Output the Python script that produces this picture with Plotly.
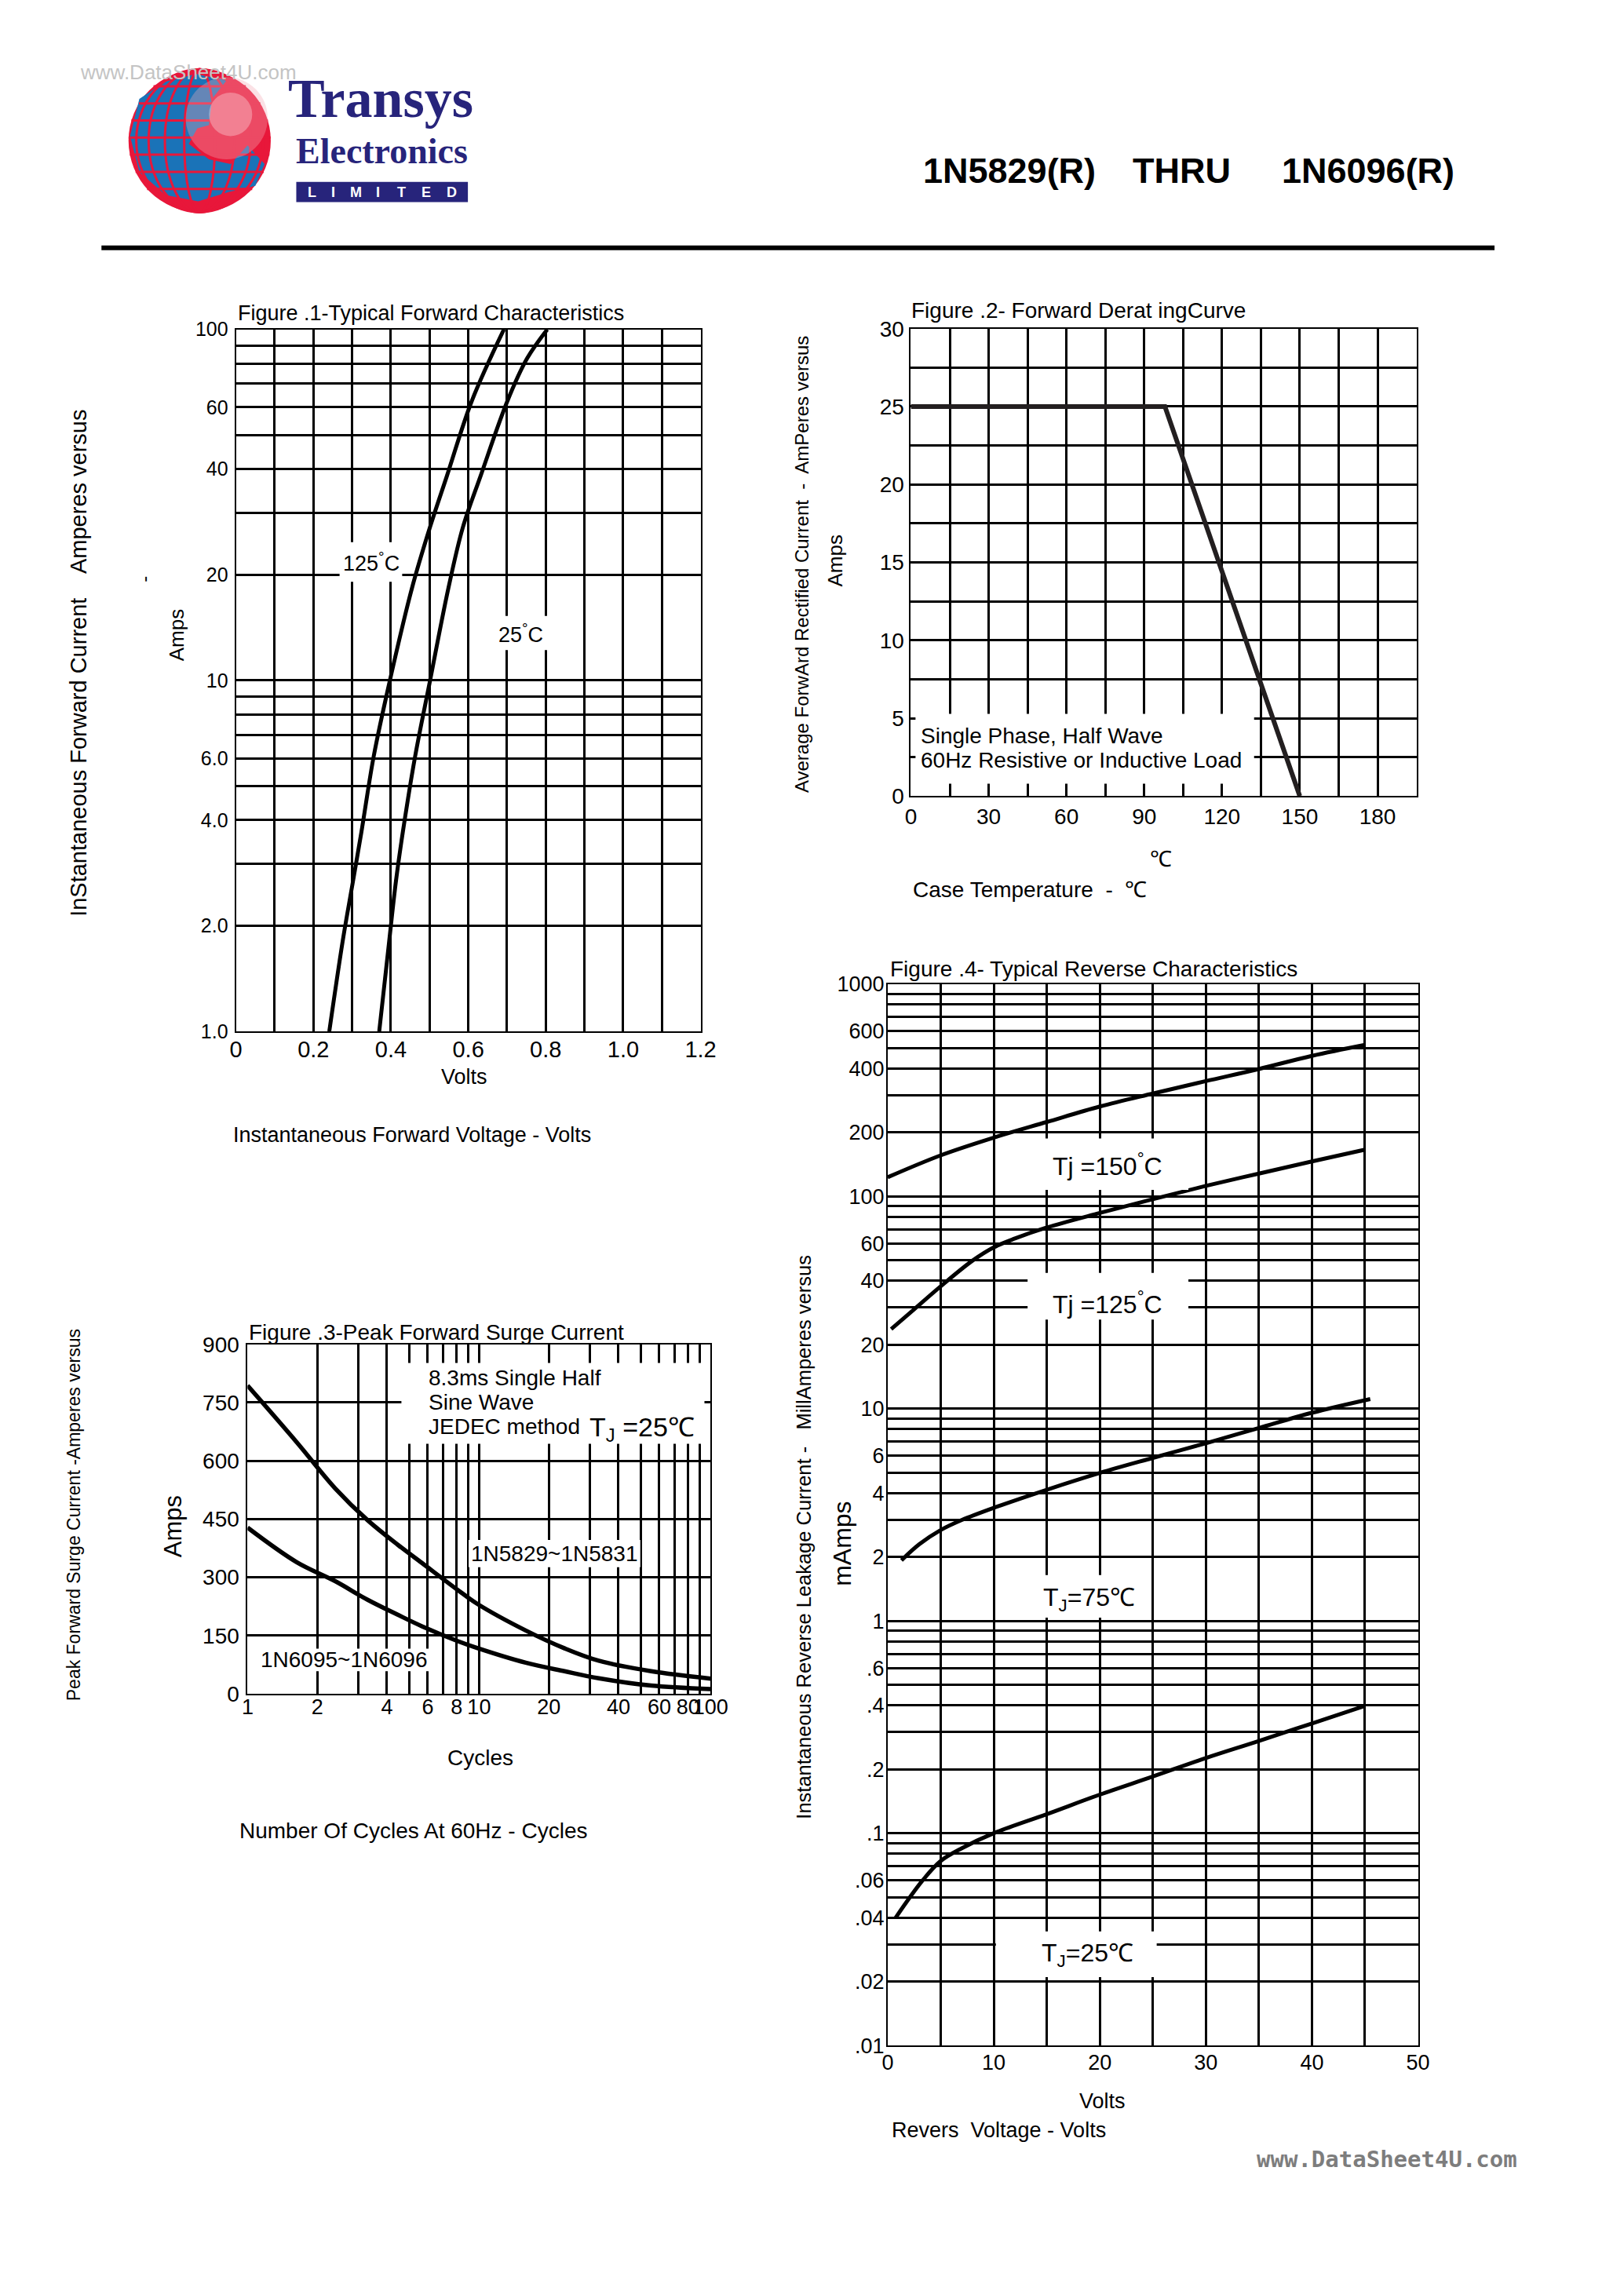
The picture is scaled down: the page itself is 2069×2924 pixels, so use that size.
import plotly.graph_objects as go

# ---------------- data ----------------
# Figure 1 - typical forward characteristics (V, A)
fig1_v125 = [0.241, 0.276, 0.302, 0.324, 0.356, 0.396, 0.455, 0.501, 0.545, 0.609, 0.692]
fig1_i125 = [1.0, 1.82, 2.67, 3.70, 6.10, 9.83, 18.4, 27.3, 38.3, 62.5, 100]
fig1_v25 = [0.370, 0.396, 0.413, 0.431, 0.463, 0.500, 0.549, 0.586, 0.632, 0.701, 0.752, 0.804]
fig1_i25 = [1.0, 1.82, 2.67, 3.70, 6.10, 9.83, 18.4, 27.3, 38.3, 62.5, 82.7, 100]
fig1_xgrid = [0, 0.1, 0.2, 0.3, 0.4, 0.5, 0.6, 0.7, 0.8, 0.9, 1.0, 1.1, 1.2]
fig1_xlabels = ["0", "", "0.2", "", "0.4", "", "0.6", "", "0.8", "", "1.0", "", "1.2"]
fig1_ygrid = [1, 2, 3, 4, 5, 6, 7, 8, 9, 10, 20, 30, 40, 50, 60, 70, 80, 90, 100]
fig1_ylabels = ["1.0", "2.0", "", "4.0", "", "6.0", "", "", "", "10", "20", "", "40", "", "60", "", "", "", "100"]

# Figure 2 - forward derating curve (degC, A)
fig2_temp = [0, 98, 150]
fig2_amps = [25, 25, 0]
fig2_xgrid = [0, 15, 30, 45, 60, 75, 90, 105, 120, 135, 150, 165, 180, 195]
fig2_xlabels = ["0", "", "30", "", "60", "", "90", "", "120", "", "150", "", "180", ""]
fig2_ygrid = [0, 2.5, 5, 7.5, 10, 12.5, 15, 17.5, 20, 22.5, 25, 27.5, 30]
fig2_ylabels = ["0", "", "5", "", "10", "", "15", "", "20", "", "25", "", "30"]

# Figure 3 - peak forward surge current (cycles, A)
fig3_cycles = [1.0, 1.63, 2.39, 3.30, 4.47, 5.66, 8.06, 9.80, 15.9, 23.4, 32.9, 55.4, 100]
fig3_5829 = [794, 648, 529, 447, 383, 337, 268, 232, 163, 117, 85, 58, 39]
fig3_6095 = [428, 339, 290, 242, 203, 174, 136, 118, 80, 58, 40, 21, 12]
fig3_xgrid = [1, 2, 3, 4, 5, 6, 7, 8, 9, 10, 20, 30, 40, 50, 60, 70, 80, 90, 100]
fig3_xlabels = ["1", "2", "", "4", "", "6", "", "8", "", "10", "20", "", "40", "", "60", "", "80", "", "100"]
fig3_ygrid = [0, 150, 300, 450, 600, 750, 900]
fig3_ylabels = ["0", "150", "300", "450", "600", "750", "900"]

# Figure 4 - typical reverse characteristics (V, mA)
fig4_v150 = [0, 5, 10, 15, 20, 25, 30, 35, 40, 45]
fig4_i150 = [123, 156, 189, 224, 265, 305, 349, 398, 459, 517]
fig4_v125 = [0.33, 2.5, 5, 8, 10, 12, 15, 20, 25, 30, 35, 40, 45]
fig4_i125 = [23.7, 29.4, 37.7, 49.8, 57.5, 63.3, 71.3, 83.5, 97, 112, 128, 146, 166]
fig4_v75 = [1.3, 3, 5, 7, 10, 15, 20, 25, 30, 35, 40, 45.5]
fig4_i75 = [1.93, 2.30, 2.68, 2.99, 3.41, 4.15, 4.98, 5.86, 6.87, 8.11, 9.56, 11.1]
fig4_v25 = [0.75, 3.3, 5, 7, 10, 15, 20, 25, 30, 35, 40, 45]
fig4_i25 = [0.040, 0.060, 0.074, 0.085, 0.100, 0.123, 0.152, 0.185, 0.226, 0.272, 0.329, 0.398]
fig4_xgrid = [0, 5, 10, 15, 20, 25, 30, 35, 40, 45, 50]
fig4_xlabels = ["0", "", "10", "", "20", "", "30", "", "40", "", "50"]
fig4_ygrid = [0.01, 0.02, 0.03, 0.04, 0.05, 0.06, 0.07, 0.08, 0.09,
              0.1, 0.2, 0.3, 0.4, 0.5, 0.6, 0.7, 0.8, 0.9,
              1, 2, 3, 4, 5, 6, 7, 8, 9,
              10, 20, 30, 40, 50, 60, 70, 80, 90,
              100, 200, 300, 400, 500, 600, 700, 800, 900, 1000]
fig4_ylabels = [".01", ".02", "", ".04", "", ".06", "", "", "",
                ".1", ".2", "", ".4", "", ".6", "", "", "",
                "1", "2", "", "4", "", "6", "", "", "",
                "10", "20", "", "40", "", "60", "", "", "",
                "100", "200", "", "400", "", "600", "", "", "", "1000"]

# ---------------- helpers ----------------
PAGE_W, PAGE_H = 2069, 2924
OFF = 8                       # default body margin of the html page
W, H = PAGE_W - 2 * OFF, PAGE_H - 2 * OFF
SANS = "Liberation Sans, Arial, Helvetica, sans-serif"
SERIF = "Liberation Serif, Times New Roman, serif"
NAVY = "#27247b"


def px(x):
    return (x - OFF) / W


def py(y):
    return 1 - (y - OFF) / H


annotations = []
shapes = []


def text(t, x, y, size, family=SANS, xanchor="center", yanchor="middle", angle=0,
         color="black", bold=False):
    annotations.append(dict(
        text=("<b>%s</b>" % t) if bold else t, x=px(x), y=py(y), xref="paper", yref="paper",
        xanchor=xanchor, yanchor=yanchor, showarrow=False, textangle=angle,
        font=dict(family=family, size=size, color=color), align="left"))


def white_box(x0, y0, x1, y1):
    shapes.append(dict(type="rect", xref="paper", yref="paper", x0=px(x0), x1=px(x1),
                       y0=py(y1), y1=py(y0), fillcolor="white", line=dict(width=0),
                       layer="above"))


def axis(domain, grid, labels, size, standoff, rng, kind="linear", horizontal=True):
    if horizontal:
        dom = [px(domain[0]), px(domain[1])]
    else:
        dom = [py(domain[1]), py(domain[0])]
    return dict(domain=dom, type=kind, range=rng, tickmode="array", tickvals=grid,
                ticktext=labels, showgrid=True, gridcolor="black", gridwidth=2.5,
                showline=True, mirror=True, linecolor="black", linewidth=2,
                zeroline=False, ticks="", ticklabelstandoff=standoff, tickangle=0,
                tickfont=dict(family=SANS, size=size, color="black"), fixedrange=True)


fig = go.Figure()
curve = dict(color="black", width=5, shape="spline", smoothing=1.0)

# ---------------- figure 1 ----------------
F1X, F1Y = (297, 898), (409, 1313)
fig.add_trace(go.Scatter(x=fig1_v125, y=fig1_i125, mode="lines", xaxis="x", yaxis="y", line=curve))
fig.add_trace(go.Scatter(x=fig1_v25, y=fig1_i25, mode="lines", xaxis="x", yaxis="y", line=curve))

# ---------------- figure 2 ----------------
F2X, F2Y = (1170, 1824), (408, 1010)
fig.add_trace(go.Scatter(x=fig2_temp, y=fig2_amps, mode="lines", xaxis="x2", yaxis="y2",
                         line=dict(color="#231f20", width=6)))

# ---------------- figure 3 ----------------
F3X, F3Y = (312, 911), (1716, 2166)
fig.add_trace(go.Scatter(x=fig3_cycles, y=fig3_5829, mode="lines", xaxis="x3", yaxis="y3",
                         line=dict(curve, width=5.5)))
fig.add_trace(go.Scatter(x=fig3_cycles, y=fig3_6095, mode="lines", xaxis="x3", yaxis="y3",
                         line=dict(curve, width=5.5)))

# ---------------- figure 4 ----------------
F4X, F4Y = (1140, 1826), (1252, 2619)
for xs, ys in [(fig4_v150, fig4_i150), (fig4_v125, fig4_i125),
               (fig4_v75, fig4_i75), (fig4_v25, fig4_i25)]:
    fig.add_trace(go.Scatter(x=xs, y=ys, mode="lines", xaxis="x4", yaxis="y4", line=curve))

fig.update_traces(showlegend=False, hoverinfo="skip")

# ---------------- white boxes behind labels ----------------
white_box(431, 683, 512, 734)        # 125C
white_box(627, 778, 702, 822)        # 25C
white_box(1176, 904, 1614, 994)      # fig2 note
white_box(511, 1740, 903, 1844)      # fig3 note
white_box(598, 1968, 820, 2003)      # 1N5829~1N5831
white_box(327, 2108, 548, 2137)      # 1N6095~1N6096
white_box(1321, 1451, 1529, 1517)    # Tj=150
white_box(1321, 1624, 1529, 1684)    # Tj=125
white_box(1323, 2013, 1479, 2068)    # Tj=75
white_box(1280, 2472, 1488, 2531)    # Tj=25

# ---------------- header ----------------
text("www.DataSheet4U.com", 93, 78, 26, color="#c4c4c4", xanchor="left")
cx, cy, r = 250, 166, 92
shapes.append(dict(type="circle", xref="paper", yref="paper", x0=px(cx - r), x1=px(cx + r),
                   y0=py(cy + r), y1=py(cy - r), fillcolor="#e8173a", line=dict(width=0)))
blue = [(172, 112), (205, 90), (245, 80), (285, 88), (266, 112), (262, 146), (247, 150),
        (236, 170), (262, 190), (290, 196), (312, 172), (334, 196), (322, 224), (288, 232),
        (248, 244), (206, 236), (172, 206), (160, 160)]
path = "M " + " L ".join("%f,%f" % (px(a), py(b)) for a, b in blue) + " Z"
shapes.append(dict(type="path", xref="paper", yref="paper", path=path,
                   fillcolor="#1a73b8", line=dict(width=0)))
for rx in [20, 45, 66, 82]:
    shapes.append(dict(type="circle", xref="paper", yref="paper", x0=px(cx - rx),
                       x1=px(cx + rx), y0=py(cy + r), y1=py(cy - r),
                       line=dict(color="#e8173a", width=3)))
for yy in [96, 118, 140, 162, 184, 206, 228]:
    hw = (r * r - (yy - cy) ** 2) ** 0.5
    shapes.append(dict(type="line", xref="paper", yref="paper", x0=px(cx - hw), x1=px(cx + hw),
                       y0=py(yy), y1=py(yy), line=dict(color="#e8173a", width=3)))
shapes.append(dict(type="circle", xref="paper", yref="paper", x0=px(232), x1=px(338),
                   y0=py(190), y1=py(84), fillcolor="#f4aab4", opacity=0.35, line=dict(width=0)))
shapes.append(dict(type="circle", xref="paper", yref="paper", x0=px(262), x1=px(318),
                   y0=py(160), y1=py(104), fillcolor="white", opacity=0.3, line=dict(width=0)))
text("Transys", 362, 112, 70, family=SERIF, xanchor="left", color=NAVY, bold=True)
text("Electronics", 373, 179, 46, family=SERIF, xanchor="left", color=NAVY, bold=True)
shapes.append(dict(type="rect", xref="paper", yref="paper", x0=px(375), x1=px(597),
                   y0=py(245), y1=py(219), fillcolor=NAVY, line=dict(width=0)))
for ch, xx in zip("LIMITED", [395, 423, 452, 481, 511, 543, 576]):
    text(ch, xx, 232, 18, color="white", bold=True)
text("1N5829(R)", 1297, 205, 45, bold=True)
text("THRU", 1520, 205, 45, bold=True)
text("1N6096(R)", 1761, 205, 45, bold=True)
shapes.append(dict(type="line", xref="paper", yref="paper", x0=px(123), x1=px(1925),
                   y0=py(304), y1=py(304), line=dict(color="black", width=6)))

# ---------------- figure 1 texts ----------------
text("Figure .1-Typical Forward Characteristics", 297, 405, 27, xanchor="left", yanchor="bottom")
text("125<sup>°</sup>C", 472, 708, 27)
text("25<sup>°</sup>C", 665, 800, 27)
text("Volts", 592, 1372, 27)
text("Instantaneous Forward Voltage - Volts", 525, 1446, 27)
text("Amps", 220, 803, 26, angle=-90)
text("-", 178, 730, 24, angle=-90)
text("InStantaneous Forward Current    Amperes versus", 93, 839, 29, angle=-90)

# ---------------- figure 2 texts ----------------
text("Figure .2- Forward Derat ingCurve", 1169, 385, 28, xanchor="left")
text("Single Phase, Half Wave", 1181, 932, 28, xanchor="left")
text("60Hz Resistive or Inductive Load", 1181, 964, 28, xanchor="left")
text("Amps", 1072, 707, 26, angle=-90)
text("Average ForwArd Rectified Current  -  AmPeres versus", 1029, 712, 24, angle=-90)
text("℃", 1493, 1091, 28)
text("Case Temperature  -  ℃", 1171, 1130, 28, xanchor="left")

# ---------------- figure 3 texts ----------------
text("Figure .3-Peak Forward Surge Current", 312, 1701, 28, xanchor="left")
text("8.3ms Single Half", 544, 1759, 28, xanchor="left")
text("Sine Wave", 544, 1791, 28, xanchor="left")
text("JEDEC method", 544, 1822, 28, xanchor="left")
text("T<sub>J</sub> =25℃", 752, 1825, 34, xanchor="left")
text("1N5829~1N5831", 709, 1986, 28)
text("1N6095~1N6096", 437, 2122, 28)
text("Amps", 215, 1950, 31, angle=-90)
text("Peak Forward Surge Current -Amperes versus", 88, 1936, 23, angle=-90)
text("Cycles", 613, 2248, 28)
text("Number Of Cycles At 60Hz - Cycles", 526, 2342, 28)

# ---------------- figure 4 texts ----------------
text("Figure .4- Typical Reverse Characteristics", 1141, 1233, 28, xanchor="left")
text("Tj =150<sup>°</sup>C", 1424, 1485, 32)
text("Tj =125<sup>°</sup>C", 1424, 1663, 32)
text("T<sub>J</sub>=75℃", 1401, 2044, 32)
text("T<sub>J</sub>=25℃", 1398, 2502, 32)
text("mAmps", 1081, 1973, 32, angle=-90)
text("Instantaneous Reverse Leakage Current -   MillAmperes versus", 1032, 1964, 25.5, angle=-90)
text("Volts", 1418, 2691, 27)
text("Revers  Voltage - Volts", 1143, 2728, 27, xanchor="left")

# footer
text("www.DataSheet4U.com", 1786, 2765, 29, family="DejaVu Sans Mono, Liberation Mono, monospace",
     color="#7d7d7d", bold=True)

fig.update_layout(
    width=W, height=H, autosize=False, margin=dict(l=0, r=0, t=0, b=0),
    paper_bgcolor="white", plot_bgcolor="white", showlegend=False,
    modebar=dict(bgcolor="rgba(0,0,0,0)", color="rgba(0,0,0,0)", activecolor="rgba(0,0,0,0)"),
    xaxis=axis(F1X, fig1_xgrid, fig1_xlabels, 29, -4, [0, 1.2]),
    yaxis=axis(F1Y, fig1_ygrid, fig1_ylabels, 25, 3, [0, 2], kind="log", horizontal=False),
    xaxis2=axis(F2X, fig2_xgrid, fig2_xlabels, 28, 0, [0, 195]),
    yaxis2=axis(F2Y, fig2_ygrid, fig2_ylabels, 28, 1, [0, 30], horizontal=False),
    xaxis3=axis(F3X, fig3_xgrid, fig3_xlabels, 27, -8, [0, 2], kind="log"),
    yaxis3=axis(F3Y, fig3_ygrid, fig3_ylabels, 28, 3, [0, 900], horizontal=False),
    xaxis4=axis(F4X, fig4_xgrid, fig4_xlabels, 27, -4, [0, 50]),
    yaxis4=axis(F4Y, fig4_ygrid, fig4_ylabels, 27, -3, [-2, 3], kind="log", horizontal=False),
    annotations=annotations, shapes=shapes,
)
for i in ["", "2", "3", "4"]:
    fig.layout["xaxis" + i].anchor = "y" + i
    fig.layout["yaxis" + i].anchor = "x" + i

fig.write_html("out.html")
